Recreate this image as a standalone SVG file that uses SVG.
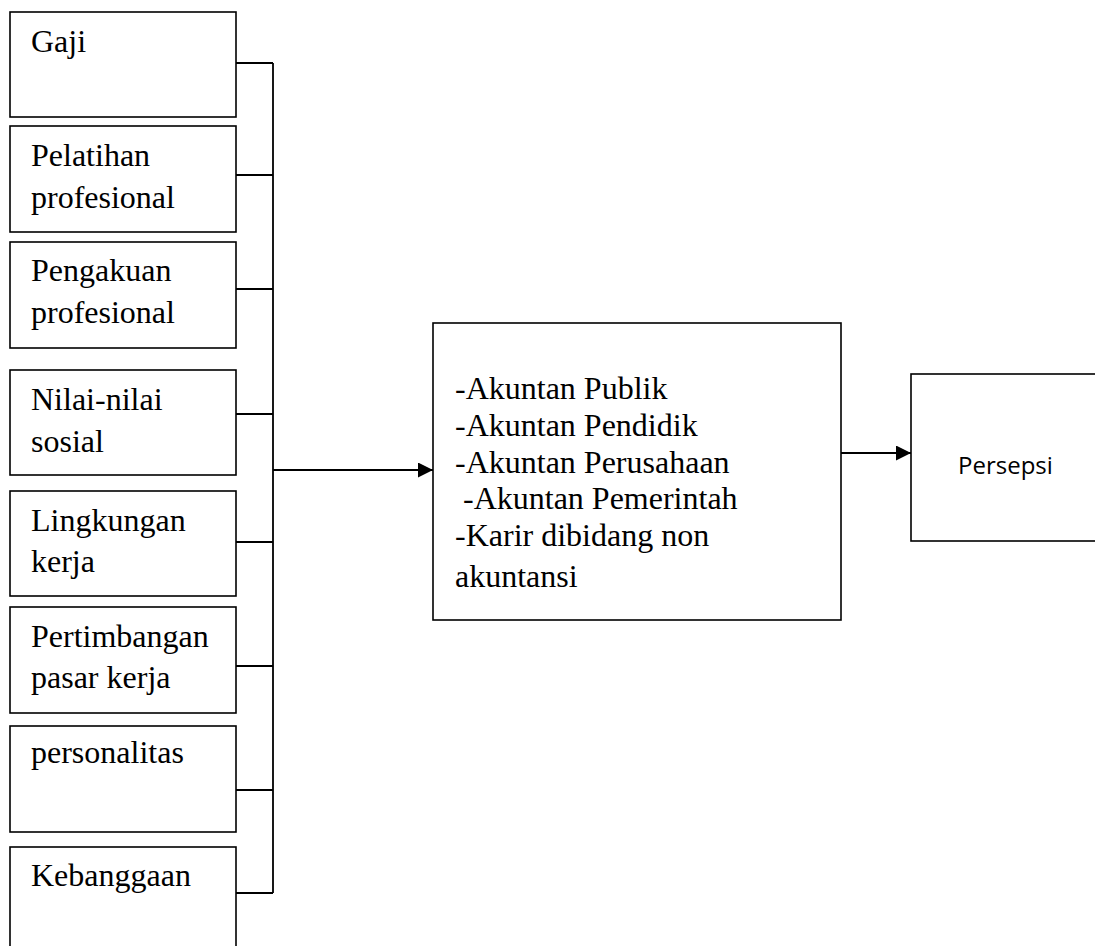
<svg xmlns="http://www.w3.org/2000/svg" width="1095" height="946" viewBox="0 0 1095 946">
<style>
.box{fill:#fff;stroke:#000;stroke-width:1.6}
.t{font-family:"Liberation Serif","Times New Roman",serif;font-size:32px;fill:#000}
.c{font-family:"Open Sans","Noto Sans",sans-serif;font-size:24px;fill:#000}
.ln{fill:none;stroke:#000;stroke-width:1.8}
.ar{fill:none;stroke:#000;stroke-width:2.2}
</style>
<defs>
<marker id="ah" markerUnits="userSpaceOnUse" markerWidth="16" markerHeight="16" refX="15" refY="7.5" orient="auto">
<path d="M0,0 L15,7.5 L0,15 Z" fill="#000"/>
</marker>
</defs>
<rect width="1095" height="946" fill="#fff"/>
<g id="connectors">
<path class="ln" d="M236,63 H273 M236,175 H273 M236,289 H273 M236,414 H273 M236,542 H273 M236,666 H273 M236,790 H273 M236,893 H273 M273,63 V893"/>
<path class="ar" d="M273,470 H433" marker-end="url(#ah)"/>
<path class="ar" d="M841,453 H911" marker-end="url(#ah)"/>
</g>
<g id="gaji"><rect class="box" x="10" y="12" width="226" height="105"/><text class="t" x="31" y="52">Gaji</text></g>
<g id="pelatihan"><rect class="box" x="10" y="126" width="226" height="106"/><text class="t" x="31" y="166">Pelatihan</text><text class="t" x="31" y="208">profesional</text></g>
<g id="pengakuan"><rect class="box" x="10" y="242" width="226" height="106"/><text class="t" x="31" y="281">Pengakuan</text><text class="t" x="31" y="323">profesional</text></g>
<g id="nilai"><rect class="box" x="10" y="370" width="226" height="105"/><text class="t" x="31" y="410">Nilai-nilai</text><text class="t" x="31" y="452">sosial</text></g>
<g id="lingkungan"><rect class="box" x="10" y="491" width="226" height="105"/><text class="t" x="31" y="531">Lingkungan</text><text class="t" x="31" y="572">kerja</text></g>
<g id="pertimbangan"><rect class="box" x="10" y="607" width="226" height="106"/><text class="t" x="31" y="647">Pertimbangan</text><text class="t" x="31" y="688">pasar kerja</text></g>
<g id="personalitas"><rect class="box" x="10" y="726" width="226" height="106"/><text class="t" x="31" y="763">personalitas</text></g>
<g id="kebanggaan"><rect class="box" x="10" y="847" width="226" height="120"/><text class="t" x="31" y="886">Kebanggaan</text></g>
<g id="karir"><rect class="box" x="433" y="323" width="408" height="297"/>
<text class="t" x="455" y="399">-Akuntan Publik</text>
<text class="t" x="455" y="436">-Akuntan Pendidik</text>
<text class="t" x="455" y="473">-Akuntan Perusahaan</text>
<text class="t" x="463" y="509">-Akuntan Pemerintah</text>
<text class="t" x="455" y="546">-Karir dibidang non</text>
<text class="t" x="455" y="587">akuntansi</text>
</g>
<g id="persepsi"><rect class="box" x="911" y="374" width="200" height="167"/><text class="c" x="958" y="474">Persepsi</text></g>
</svg>
